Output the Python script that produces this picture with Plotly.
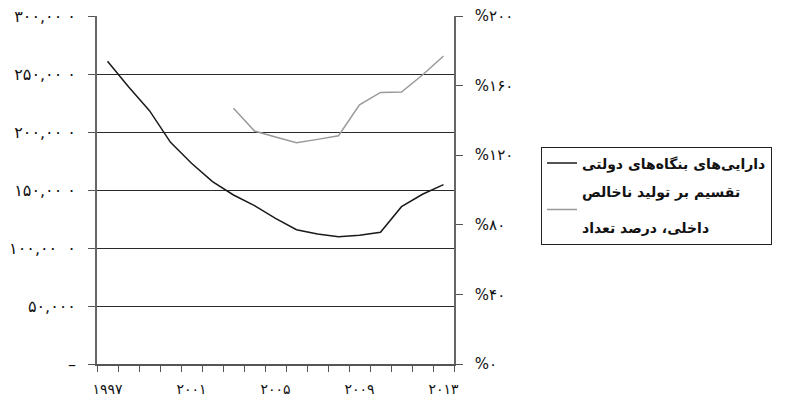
import plotly.graph_objects as go

years = list(range(1997, 2014))
soe_assets = [261000, 239000, 218400, 191100, 173000, 157200, 145700, 136500,
              125600, 115800, 112100, 109700, 110900, 113500, 135600, 146300, 154600]
count_years = list(range(2003, 2014))
count_pct = [147, 133.9, 130.5, 127.2, 129.1, 131.2, 148.9, 156.1, 156.3, 166.1, 177]

name1 = "دارایی‌های بنگاه‌های دولتی"
name2 = "تقسیم بر تولید ناخالص<br><br>داخلی، درصد تعداد"

left_vals = [0, 50000, 100000, 150000, 200000, 250000, 300000]
left_text = ["–", "۵۰,۰۰۰", "۱۰۰,۰۰  ۰", "۱۵۰,۰۰ ۰", "۲۰۰,۰۰ ۰", "۲۵۰,۰۰ ۰", "۳۰۰,۰۰ ۰"]
right_vals = [0, 40, 80, 120, 160, 200]
right_text = ["%۰", "%۴۰", "%۸۰", "%۱۲۰", "%۱۶۰", "%۲۰۰"]
x_vals = [1997, 2001, 2005, 2009, 2013]
x_text = ["۱۹۹۷", "۲۰۰۱", "۲۰۰۵", "۲۰۰۹", "۲۰۱۳"]

FONT = "DejaVu Sans"

fig = go.Figure()
fig.add_trace(go.Scatter(x=years, y=soe_assets, mode="lines", name=name1,
                         line=dict(color="#1a1a1a", width=1.5), legendgroup="a"))
fig.add_trace(go.Scatter(x=count_years, y=count_pct, mode="lines", name=name2,
                         line=dict(color="#9a9a9a", width=1.5), yaxis="y2", legendgroup="b"))

fig.update_layout(
    width=789, height=398,
    margin=dict(l=97, r=335, t=16, b=34, autoexpand=False),
    plot_bgcolor="white", paper_bgcolor="white",
    font=dict(family=FONT, size=13, color="#111"),
    showlegend=True,
    legend=dict(x=1.2437, xanchor="left", y=0.625, yanchor="top",
                bordercolor="#222", borderwidth=1, bgcolor="white",
                font=dict(family=FONT, size=14, color="#111", weight="bold"),
                tracegroupgap=7, traceorder="grouped"),
    xaxis=dict(range=[1996.5, 2013.5], tickvals=x_vals, ticktext=x_text,
               ticks="outside", ticklen=6, tickcolor="rgba(0,0,0,0)",
               ticklabelstandoff=5, automargin=False,
               minor=dict(tickvals=[y + 0.5 for y in range(1996, 2014)], ticks="outside",
                          ticklen=6, tickcolor="#555", tickwidth=1, showgrid=False),
               showgrid=False, zeroline=False, showline=True, linecolor="#555", linewidth=1.5,
               tickfont=dict(size=14, color="#111")),
    yaxis=dict(range=[0, 300000], tickvals=left_vals, ticktext=left_text,
               ticks="outside", ticklen=7, tickcolor="#555", ticklabelstandoff=9,
               automargin=False,
               showgrid=True, gridcolor="#2a2a2a", gridwidth=1, zeroline=False,
               showline=True, linecolor="#666", linewidth=1.7,
               tickfont=dict(size=16, color="#111")),
    yaxis2=dict(range=[0, 200], tickvals=right_vals, ticktext=right_text,
                overlaying="y", side="right", ticks="outside", ticklen=7, tickcolor="#555",
                ticklabelstandoff=9, showgrid=False, zeroline=False, automargin=False,
                showline=True, linecolor="#666", linewidth=1.7,
                tickfont=dict(size=15, color="#111")),
)

fig.write_html("out.html")
